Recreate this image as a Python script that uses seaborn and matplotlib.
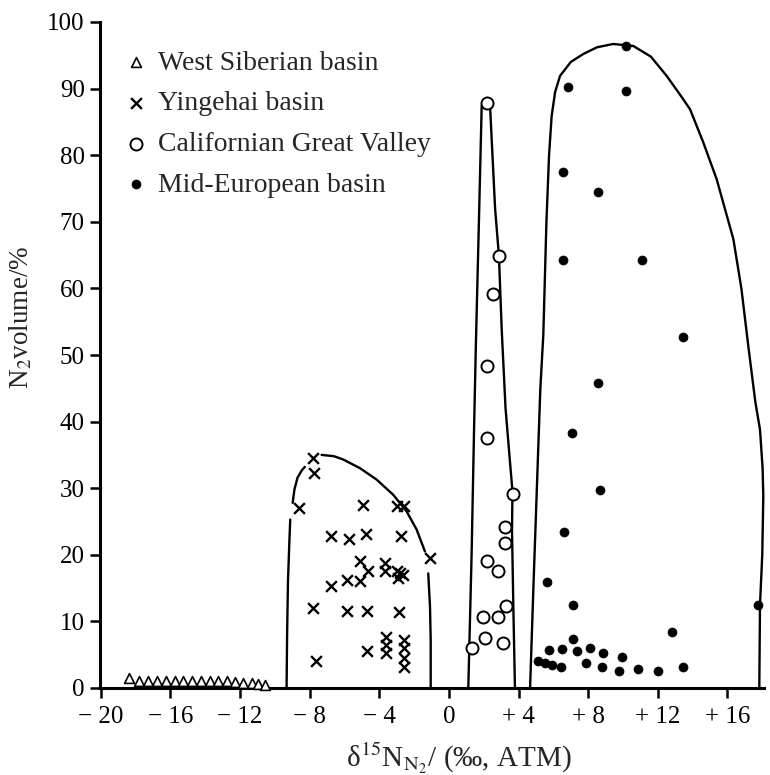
import matplotlib
matplotlib.use("Agg")
import matplotlib.pyplot as plt
import seaborn as sns
import numpy as np
import pandas as pd

# ---------------- data ----------------
ws_x = [-18.37, -17.80, -17.28, -16.77, -16.26, -15.75, -15.27, -14.74, -14.27,
        -13.74, -13.26, -12.78, -12.30, -11.82, -11.34, -10.96, -10.57]
ws_y = [1.5, 1.0, 1.0, 1.0, 1.0, 1.0, 1.0, 1.0, 1.0,
        1.0, 1.0, 1.0, 0.9, 0.8, 0.7, 0.6, 0.5]

yg_x = [-7.83, -7.76, -8.60, -4.93, -3.01, -2.59, -6.80, -5.73, -4.77, -2.78,
        -1.09, -5.11, -4.64, -3.68, -3.68, -3.00, -2.80, -2.65, -2.90,
        -5.84, -5.11, -6.80, -7.83, -5.84, -4.73, -2.85, -3.62, -3.62, -3.62,
        -2.59, -2.59, -2.59, -2.59, -4.73, -7.64]
yg_y = [34.5, 32.3, 27.0, 27.5, 27.4, 27.4, 22.8, 22.3, 23.1, 22.8,
        19.5, 19.0, 17.5, 18.8, 17.6, 17.6, 17.2, 16.9, 16.5,
        16.2, 16.0, 15.3, 12.0, 11.6, 11.6, 11.4, 7.7, 6.5, 5.2,
        7.2, 6.0, 4.5, 3.2, 5.6, 4.1]

cg_x = [2.20, 2.87, 2.55, 2.20, 2.20, 3.70, 3.22, 3.22, 2.17, 2.83, 3.28,
        1.97, 2.80, 1.30, 2.07, 3.12]
cg_y = [87.9, 64.9, 59.2, 48.3, 37.5, 29.2, 24.1, 21.8, 19.1, 17.5, 12.3,
        10.6, 10.6, 6.0, 7.5, 6.8]

me_x = [10.17, 6.86, 10.17, 6.57, 8.55, 6.57, 11.11, 13.43, 8.58, 7.05, 8.68,
        6.63, 5.65, 7.14, 17.78, 12.80, 7.11, 5.76, 6.51, 7.34, 8.10, 8.87,
        9.92, 5.13, 5.50, 5.90, 6.44, 7.86, 8.81, 9.77, 10.84, 12.03, 13.47]
me_y = [96.4, 90.2, 89.6, 77.5, 74.5, 64.3, 64.3, 52.7, 45.8, 38.3, 29.7,
        23.4, 15.9, 12.5, 12.5, 8.4, 7.3, 5.7, 5.8, 5.5, 6.0, 5.2,
        4.6, 4.1, 3.8, 3.5, 3.1, 3.7, 3.2, 2.5, 2.8, 2.6, 3.2]

# envelope outlines
yg_env_a_x = [-9.33, -9.30, -9.25, -9.17, -9.12]
yg_env_a_y = [0.0, 8.0, 16.0, 22.0, 25.3]
yg_env_b_x = [-8.98, -8.88, -8.70, -8.45, -8.28]
yg_env_b_y = [27.8, 29.8, 31.6, 32.7, 33.2]
yg_env_c_x = [-7.32, -6.60, -6.07, -5.11, -4.16, -3.20, -2.43, -1.86, -1.38]
yg_env_c_y = [35.0, 34.8, 34.3, 33.0, 31.3, 29.0, 26.5, 23.8, 20.5]
yg_env_d_x = [-1.19, -1.09, -1.05, -1.05]
yg_env_d_y = [17.2, 12.2, 7.2, 0.0]

cg_env_x = [1.11, 1.30, 1.45, 1.55, 1.72, 1.88, 2.05, 2.20, 2.36, 2.65, 2.87,
            3.03, 3.25, 3.51, 3.65, 3.62, 3.70, 3.79]
cg_env_y = [0.0, 20.0, 40.0, 52.0, 70.0, 87.4, 88.4, 88.6, 87.4, 72.0, 64.9,
            53.8, 42.0, 33.8, 29.5, 23.8, 12.0, 0.0]

me_env_x = [4.66, 4.85, 5.05, 5.25, 5.42, 5.60, 5.75, 5.90, 6.10, 6.38, 7.00,
            7.72, 8.50, 9.44, 10.59, 11.60, 12.51, 13.30, 13.85, 14.60, 15.38,
            16.34, 16.80, 17.20, 17.60, 17.87, 18.02, 18.06, 18.00, 17.87, 17.83]
me_env_y = [0.0, 15.0, 30.0, 45.0, 53.0, 70.0, 80.0, 85.9, 89.5, 91.9, 94.0,
            95.2, 96.2, 96.7, 96.4, 94.8, 91.9, 89.0, 86.9, 82.0, 76.4,
            67.4, 60.0, 51.3, 43.0, 38.8, 33.0, 28.8, 20.0, 12.5, 0.0]

x_ticks = [-20, -16, -12, -8, -4, 0, 4, 8, 12, 16]
x_tick_labels = ['\u2212 20', '\u2212 16', '\u2212 12', '\u2212 8', '\u2212 4',
                 '0', '+ 4', '+ 8', '+ 12', '+ 16']
y_ticks = [0, 10, 20, 30, 40, 50, 60, 70, 80, 90, 100]

labels = ['West Siberian basin', 'Yingehai basin',
          'Californian Great Valley', 'Mid-European basin']

# ---------------- style ----------------
sns.set_theme(style="ticks")
plt.rcParams['font.family'] = ['Liberation Serif', 'DejaVu Serif']
plt.rcParams['mathtext.fontset'] = 'stix'

fig = plt.figure(figsize=(7.7, 7.75), dpi=100)
ax = fig.add_axes([100 / 770, 1 - 688 / 775, 664 / 770, 666 / 775])

# envelopes
env_kw = dict(color='black', lw=1.7, clip_on=False, zorder=2)
ax.plot(yg_env_a_x, yg_env_a_y, **env_kw)
ax.plot(yg_env_b_x, yg_env_b_y, **env_kw)
ax.plot(yg_env_c_x, yg_env_c_y, **env_kw)
ax.plot(yg_env_d_x, yg_env_d_y, **env_kw)
ax.plot(cg_env_x, cg_env_y, **env_kw)
ax.plot(me_env_x, me_env_y, **env_kw)

ws = pd.DataFrame({'x': ws_x, 'y': ws_y})
yg = pd.DataFrame({'x': yg_x, 'y': yg_y})
cg = pd.DataFrame({'x': cg_x, 'y': cg_y})
me = pd.DataFrame({'x': me_x, 'y': me_y})

sns.scatterplot(data=ws, x='x', y='y', marker='^', s=50, facecolor='white',
                edgecolor='black', linewidth=1.2, ax=ax, label=labels[0],
                zorder=3, clip_on=False)
sns.scatterplot(data=yg, x='x', y='y', marker='x', s=60, color='black',
                linewidth=1.7, ax=ax, label=labels[1], zorder=3)
sns.scatterplot(data=cg, x='x', y='y', marker='o', s=75, facecolor='white',
                edgecolor='black', linewidth=1.4, ax=ax, label=labels[2],
                zorder=4)
sns.scatterplot(data=me, x='x', y='y', marker='o', s=42, color='black',
                edgecolor='black', linewidth=0.5, ax=ax, label=labels[3],
                zorder=4, clip_on=False)

ax.set_xlim(-20.05, 18.1)
ax.set_ylim(0, 100)
ax.set_xticks(x_ticks)
ax.set_xticklabels(x_tick_labels)
ax.set_yticks(y_ticks)
ax.tick_params(axis='both', direction='out', length=7, width=1.8,
               labelsize=18, color='black', labelcolor='black')
ax.tick_params(axis='x', pad=6)
ax.tick_params(axis='y', pad=4)
for s in ['top', 'right']:
    ax.spines[s].set_visible(False)
for s in ['left', 'bottom']:
    ax.spines[s].set_linewidth(2.2)
    ax.spines[s].set_color('black')

ax.set_xlabel('\u03b4$^{15}$N$_{\\mathrm{N_2}}$/ (\u2030, ATM)', fontsize=21)
ax.xaxis.set_label_coords(0.541, -0.078)
ax.set_ylabel(r'N$_2$volume/%', fontsize=19.5)
ax.yaxis.set_label_coords(-0.0994, 0.556)

leg = ax.legend(loc='upper left', bbox_to_anchor=(0.021, 0.9745), frameon=False,
                fontsize=20, handletextpad=0.39, labelspacing=0.55,
                borderaxespad=0, handlelength=0.8)

fig.savefig('out.png', dpi=100)
